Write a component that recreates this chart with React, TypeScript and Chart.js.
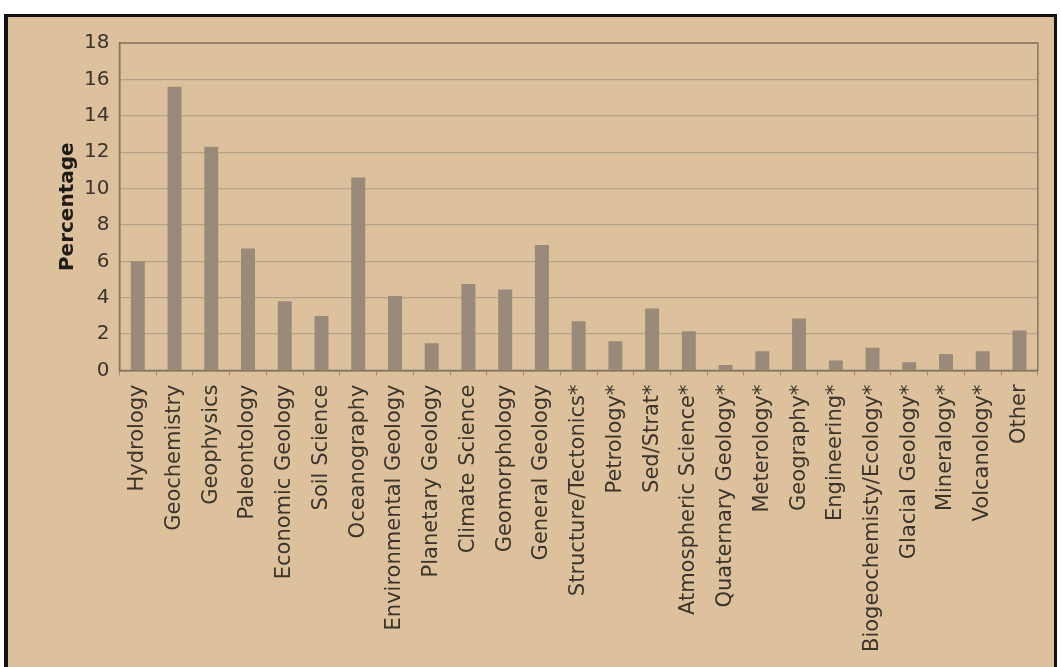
import React, { useEffect, useRef } from "react";
import { Chart, registerables } from "chart.js";

Chart.register(...registerables);

const categories: string[] = [
  "Hydrology",
  "Geochemistry",
  "Geophysics",
  "Paleontology",
  "Economic Geology",
  "Soil Science",
  "Oceanography",
  "Environmental Geology",
  "Planetary Geology",
  "Climate Science",
  "Geomorphology",
  "General Geology",
  "Structure/Tectonics*",
  "Petrology*",
  "Sed/Strat*",
  "Atmospheric Science*",
  "Quaternary Geology*",
  "Meterology*",
  "Geography*",
  "Engineering*",
  "Biogeochemisty/Ecology*",
  "Glacial Geology*",
  "Mineralogy*",
  "Volcanology*",
  "Other",
];

const percentages: number[] = [
  6.0, 15.6, 12.3, 6.7, 3.8, 3.0, 10.6, 4.1, 1.5, 4.75, 4.45, 6.9,
  2.7, 1.6, 3.4, 2.15, 0.3, 1.05, 2.85, 0.55, 1.25, 0.45, 0.9, 1.05, 2.2,
];

const yTicks: number[] = [0, 2, 4, 6, 8, 10, 12, 14, 16, 18];

const FONT = "'DejaVu Sans', Verdana, sans-serif";
const TEXT = "#3b342c";

const framePlugin = {
  id: "frame",
  afterDraw(chart: any) {
    const { ctx, chartArea } = chart;
    ctx.save();
    ctx.strokeStyle = "#85775f";
    ctx.lineWidth = 1.5;
    ctx.strokeRect(chartArea.left, chartArea.top, chartArea.right - chartArea.left, chartArea.bottom - chartArea.top);
    ctx.restore();
  },
};

export default function App() {
  const ref = useRef<HTMLCanvasElement | null>(null);

  useEffect(() => {
    if (!ref.current) return;
    const chart = new Chart(ref.current, {
      type: "bar",
      data: {
        labels: categories,
        datasets: [
          {
            label: "Percentage",
            data: percentages,
            backgroundColor: "#998a79",
            borderWidth: 0,
            barPercentage: 0.38,
            categoryPercentage: 1,
          },
        ],
      },
      options: {
        animation: false,
        responsive: false,
        maintainAspectRatio: false,
        layout: { padding: { left: 48, right: 16, top: 26, bottom: 6 } },
        plugins: { legend: { display: false }, tooltip: { enabled: false } },
        scales: {
          x: {
            offset: true,
            grid: { display: true, drawOnChartArea: false, drawTicks: true, tickLength: 5, color: "#9a8c78", offset: true },
            border: { display: true, color: "#85775f", width: 1.5 },
            ticks: {
              autoSkip: false,
              maxRotation: 90,
              minRotation: 90,
              color: TEXT,
              padding: 9,
              font: { family: FONT, size: 21 },
            },
          },
          y: {
            min: 0,
            max: 18,
            afterBuildTicks: (axis: any) => {
              axis.ticks = yTicks.map((v) => ({ value: v }));
            },
            grid: { color: "#b3a188", lineWidth: 1.2, drawTicks: false },
            border: { display: true, color: "#85775f", width: 1.5 },
            ticks: {
              color: TEXT,
              padding: 10,
              font: { family: FONT, size: 20 },
            },
            title: {
              display: true,
              text: "Percentage",
              color: "#1e1a16",
              font: { family: FONT, size: 20, weight: "bold" },
              padding: { top: 0, bottom: -6 },
            },
          },
        },
      },
      plugins: [framePlugin],
    });
    return () => chart.destroy();
  }, []);

  return (
    <div
      style={{
        position: "fixed",
        left: 0,
        top: 0,
        width: 1061,
        height: 667,
        background: "#ffffff",
        overflow: "hidden",
      }}
    >
      <div
        style={{
          position: "absolute",
          left: 4,
          top: 14,
          width: 1053,
          height: 653,
          background: "#dcc19c",
          borderLeft: "4px solid #111",
          borderTop: "3px solid #111",
          borderRight: "3px solid #111",
          boxSizing: "border-box",
        }}
      >
        <canvas ref={ref} width={1046} height={650} style={{ display: "block", background: "#dcc19c" }} />
      </div>
    </div>
  );
}
